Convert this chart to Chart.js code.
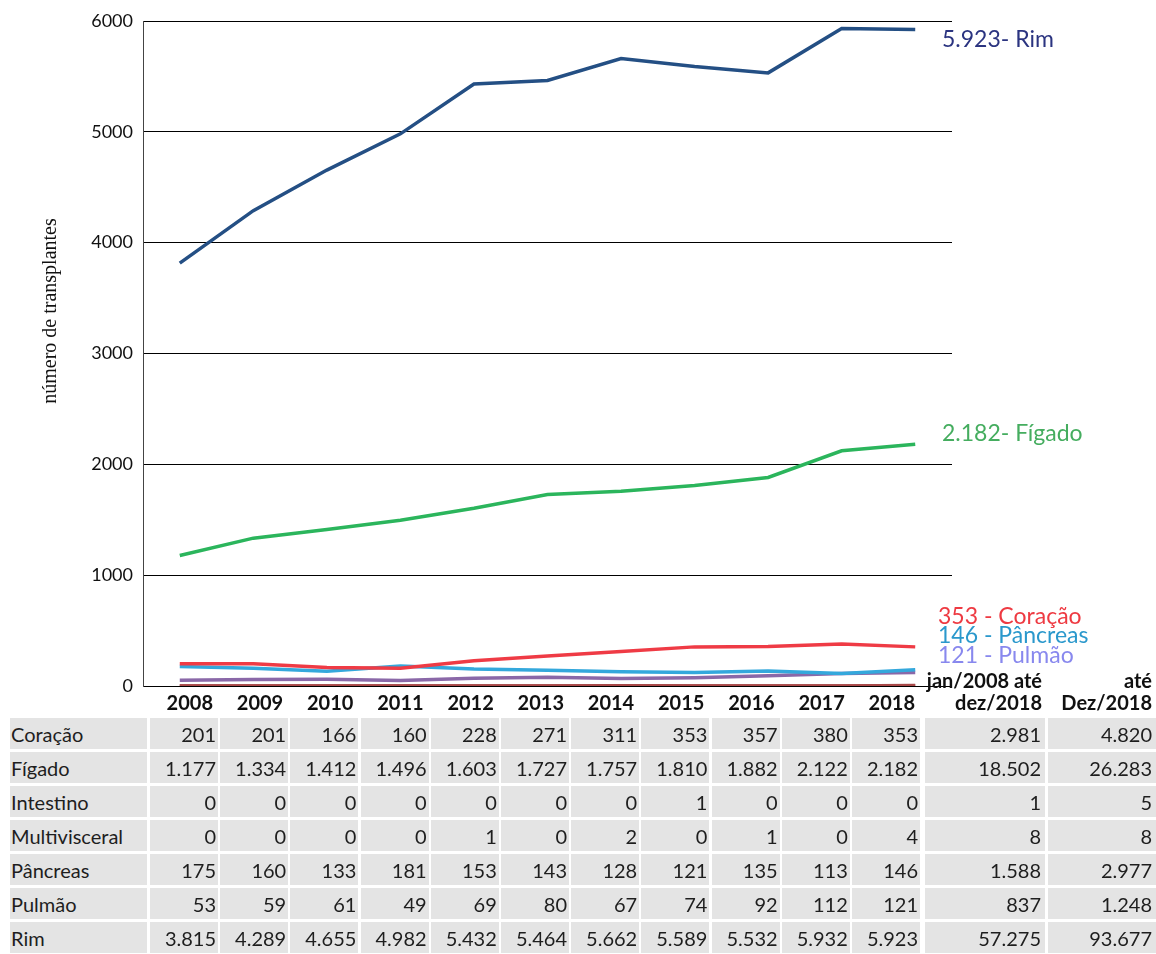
<!DOCTYPE html>
<html><head><meta charset="utf-8">
<script src="https://cdn.jsdelivr.net/npm/chart.js@4.4.0/dist/chart.umd.min.js"></script>
<style>
html,body{margin:0;padding:0;background:#fff;width:1156px;height:954px;overflow:hidden;font-family:Lato,sans-serif;}
#wrap{position:relative;width:1156px;height:954px;}
canvas{position:absolute;left:0;top:0;}
.cell{position:absolute;background:#e4e4e4;height:31px;line-height:32px;font-size:20px;color:#1e1e1e;box-sizing:border-box;white-space:nowrap;}
.num{text-align:right;padding-right:2px;}
.tot{text-align:right;padding-right:4px;}
.lbl{padding-left:1px;}
.hdr{position:absolute;font-weight:bold;font-size:20px;color:#111;text-align:right;white-space:nowrap;line-height:22px;height:22px;}
</style></head><body>
<div id="wrap"><canvas id="c" width="1156" height="954"></canvas><div id="table"></div></div>
<script>
// ---- data ----
const years = ['2008','2009','2010','2011','2012','2013','2014','2015','2016','2017','2018'];
const rowNames = ['Coração','Fígado','Intestino','Multivisceral','Pâncreas','Pulmão','Rim'];
const coracao = [201,201,166,160,228,271,311,353,357,380,353];
const figado = [1177,1334,1412,1496,1603,1727,1757,1810,1882,2122,2182];
const intestino = [0,0,0,0,0,0,0,1,0,0,0];
const multivisceral = [0,0,0,0,1,0,2,0,1,0,4];
const pancreas = [175,160,133,181,153,143,128,121,135,113,146];
const pulmao = [53,59,61,49,69,80,67,74,92,112,121];
const rim = [3815,4289,4655,4982,5432,5464,5662,5589,5532,5932,5923];
const totalPeriodo = [2981,18502,1,8,1588,837,57275];
const totalGeral = [4820,26283,5,8,2977,1248,93677];
const totalHeaderA = ['jan/2008 até','dez/2018'];
const totalHeaderB = ['até','Dez/2018'];
const yTicks = [0,1000,2000,3000,4000,5000,6000];
const yTitle = 'número de transplantes';

function fmt(n){ return String(n).replace(/\B(?=(\d{3})+(?!\d))/g,'.'); }

const seriesRows = [coracao, figado, intestino, multivisceral, pancreas, pulmao, rim];

// ---- chart ----
const endLabels = {
  'Rim':      {text: v => fmt(v)+'- Rim',      color:'#2b3480', dx:-10, dy:10},
  'Fígado':   {text: v => fmt(v)+'- Fígado',   color:'#45ad5f', dx:-10, dy:-11},
  'Coração':  {text: v => fmt(v)+' - Coração', color:'#ee3a42', dx:-14, dy:-30},
  'Pâncreas': {text: v => fmt(v)+' - Pâncreas',color:'#2a98cc', dx:-14, dy:-34},
  'Pulmão':   {text: v => fmt(v)+' - Pulmão',  color:'#8888ee', dx:-14, dy:-17}
};

const endLabelPlugin = {
  id:'endLabels',
  afterDatasetsDraw(chart){
    const ctx = chart.ctx, ys = chart.scales.y, area = chart.chartArea;
    ctx.save();
    ctx.font = '23px Lato';
    ctx.textBaseline = 'middle';
    ctx.textAlign = 'left';
    chart.data.datasets.forEach(ds => {
      const cfg = endLabels[ds.label];
      if(!cfg) return;
      const v = ds.data[ds.data.length-1];
      ctx.fillStyle = cfg.color;
      ctx.fillText(cfg.text(v), area.right + cfg.dx, ys.getPixelForValue(v) + cfg.dy);
    });
    ctx.restore();
  }
};

const yTitlePlugin = {
  id:'yTitle',
  afterDraw(chart){
    const ctx = chart.ctx;
    ctx.save();
    ctx.translate(51, 311);
    ctx.rotate(-Math.PI/2);
    ctx.font = '20px "Liberation Serif", serif';
    ctx.fillStyle = '#111';
    ctx.textAlign = 'center';
    ctx.textBaseline = 'middle';
    ctx.fillText(yTitle, 0, 0);
    ctx.restore();
  }
};

function ds(label, data, color){
  return {label, data, borderColor:color, backgroundColor:color, borderWidth:3.5, pointRadius:0, tension:0, fill:false};
}

const chart = new Chart(document.getElementById('c'), {
  type:'line',
  data:{
    labels: years,
    datasets:[
      ds('Rim', rim, '#244f84'),
      ds('Fígado', figado, '#2bb55c'),
      ds('Coração', coracao, '#ef3b45'),
      ds('Pâncreas', pancreas, '#34a8dc'),
      ds('Pulmão', pulmao, '#8a68a8'),
      ds('Multivisceral', multivisceral, '#a84848'),
      ds('Intestino', intestino, '#a84848')
    ]
  },
  options:{
    responsive:false,
    animation:false,
    layout:{padding:{left:0, right:204, top:21, bottom:268}},
    plugins:{legend:{display:false}, tooltip:{enabled:false}},
    scales:{
      x:{type:'category', offset:true, display:false},
      y:{
        min:0, max:6000,
        afterBuildTicks(scale){ scale.ticks = yTicks.map(v=>({value:v})); },
        afterFit(scale){ scale.width = 143; },
        ticks:{font:{family:'Lato', size:18}, color:'#111', padding:10, callback:v=>String(v)},
        grid:{color:'#000', lineWidth:1, drawTicks:false},
        border:{display:true, color:'#444', width:1}
      }
    }
  },
  plugins:[endLabelPlugin, yTitlePlugin]
});

// ---- table ----
const table = document.getElementById('table');
function add(cls, left, top, width, text){
  const d = document.createElement('div');
  d.className = cls;
  d.style.left = left+'px'; d.style.top = top+'px'; d.style.width = width+'px';
  d.textContent = text;
  table.appendChild(d);
  return d;
}
const colLeft0 = 150, colPitch = 70.2, colW = 68;
const rowTop0 = 718, rowPitch = 34;
years.forEach((y,j)=>{ add('hdr', colLeft0 + j*colPitch, 691, colW-5, y); });
add('hdr', 925, 669, 117, totalHeaderA[0]);
add('hdr', 925, 691, 117, totalHeaderA[1]);
add('hdr', 1048, 669, 104, totalHeaderB[0]);
add('hdr', 1048, 691, 104, totalHeaderB[1]);
rowNames.forEach((name,i)=>{
  const top = rowTop0 + i*rowPitch;
  add('cell lbl', 10, top, 137, name);
  seriesRows[i].forEach((v,j)=> add('cell num', colLeft0 + j*colPitch, top, colW, fmt(v)));
  add('cell tot', 925, top, 120, fmt(totalPeriodo[i]));
  add('cell tot', 1048, top, 108, fmt(totalGeral[i]));
});
</script>
</body></html>
